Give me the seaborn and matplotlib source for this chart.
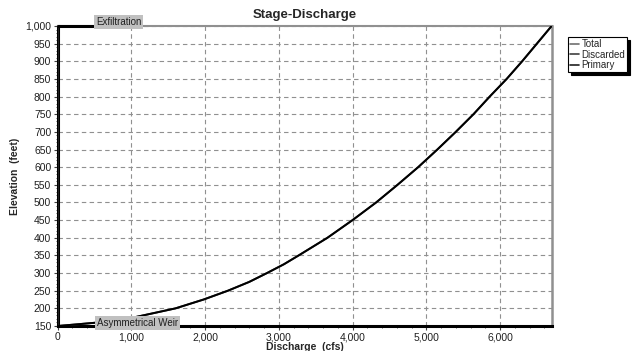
"""Stage-Discharge curve (Total / Discarded / Primary)."""

import matplotlib

matplotlib.use("Agg")
import matplotlib.pyplot as plt
import pandas as pd
import seaborn as sns
from matplotlib.ticker import FuncFormatter, MultipleLocator

sns.set_theme(style="ticks")
plt.rcParams["font.family"] = ["Liberation Sans", "DejaVu Sans"]

# --- data ---
elevation = [150, 155, 160, 175, 200, 225, 250, 275, 300, 325, 350, 400,
             450, 500, 550, 600, 650, 700, 750, 800, 850, 900, 950, 1000]
primary_q = [0, 280, 550, 1050, 1600, 1980, 2310, 2600, 2840, 3070, 3270,
             3660, 4000, 4320, 4610, 4890, 5150, 5400, 5640, 5860, 6090,
             6300, 6500, 6700]
total_q = primary_q
discarded_q = [0] * len(elevation)
series = ["Total", "Discarded", "Primary"]
colors = ["#404040", "#202020", "#000000"]

exfil_q = [0, 480]
exfil_elev = [1000, 1000]
labels = ["Exfiltration", "Asymmetrical Weir"]
label_q = [520, 530]
label_elev = [1012, 158]

df = pd.concat([
    pd.DataFrame({"Discharge": q, "Elevation": elevation, "Series": s})
    for s, q in zip(series, [total_q, discarded_q, primary_q])
])

fig = plt.figure(figsize=(6.37, 3.51), dpi=100)
ax = fig.add_axes([0.0903, 0.0712, 0.7763, 0.8548])

sns.lineplot(data=df, x="Discharge", y="Elevation", hue="Series",
             hue_order=series, palette=colors, sort=False, estimator=None,
             linewidth=1.4, ax=ax, zorder=3)
ax.plot(exfil_q, exfil_elev, color="black", lw=2.2, zorder=4, clip_on=False)

ax.set_xlim(0, 6705)
ax.set_ylim(150, 1000)
ax.xaxis.set_major_locator(MultipleLocator(1000))
ax.xaxis.set_minor_locator(MultipleLocator(200))
ax.yaxis.set_major_locator(MultipleLocator(50))
ax.yaxis.set_minor_locator(MultipleLocator(10))
fmt = FuncFormatter(lambda v, _: f"{v:,.0f}")
ax.xaxis.set_major_formatter(fmt)
ax.yaxis.set_major_formatter(fmt)
ax.tick_params(which="major", direction="out", length=3, width=0.8,
               color="#404040", labelsize=7.5, pad=1.5, labelcolor="#202020")
ax.tick_params(which="minor", direction="out", length=1.5, width=0.6,
               color="#404040")
ax.grid(True, which="major", color="#909090", linestyle=(0, (4, 3)), lw=0.8)

for side, col, w in [("left", "black", 2.2), ("bottom", "black", 2.2),
                     ("top", "#909090", 1.5), ("right", "#909090", 1.8)]:
    ax.spines[side].set_color(col)
    ax.spines[side].set_linewidth(w)

for txt, q, e in zip(labels, label_q, label_elev):
    ax.text(q, e, txt, fontsize=7, ha="left", va="center", color="#202020",
            zorder=6, clip_on=False,
            bbox=dict(facecolor="#c0c0c0", edgecolor="none", pad=1.4))

ax.set_title("Stage-Discharge", fontsize=9.5, fontweight="bold", pad=6)
ax.set_xlabel("Discharge  (cfs)", fontsize=7.5, fontweight="bold",
              labelpad=0)
ax.set_ylabel("Elevation  (feet)", fontsize=7.5, fontweight="bold",
              labelpad=4)

leg = ax.legend(loc="upper left", bbox_to_anchor=(1.032, 0.963), fontsize=7,
                frameon=True, fancybox=False, shadow={"color": "black",
                                                      "alpha": 1},
                handlelength=0.9, handletextpad=0.3, borderpad=0.2,
                labelspacing=0.05, borderaxespad=0)
leg.get_frame().set_edgecolor("black")
leg.get_frame().set_linewidth(0.8)
for line, col in zip(leg.get_lines(), ["#707070", "#404040", "#202020"]):
    line.set_linewidth(1.2)
    line.set_color(col)

fig.savefig("out.png", dpi=100)
